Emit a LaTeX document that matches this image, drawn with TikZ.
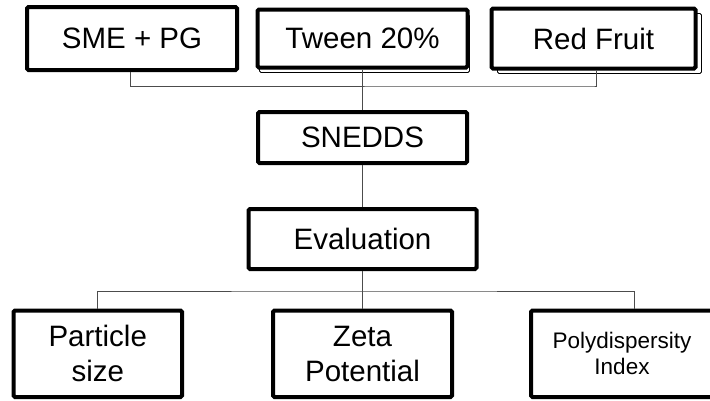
\documentclass[tikz,border=0pt]{standalone}
\usepackage{fontspec}
\setmainfont{Liberation Sans}
\usetikzlibrary{positioning,shadows}
\tikzset{%
  box/.style={rectangle, draw, line width=4pt, rounded corners=1.5pt, fill=white, align=center, inner sep=0pt, font=\fontsize{29.5}{35}\selectfont},
  shadowed/.style={copy shadow={shadow xshift=#1, shadow yshift=-5pt, draw=black, line width=0.8pt, fill=white, opacity=1}},
  link/.style={draw=black!70, line width=0.8pt}
}
\begin{document}
\begin{tikzpicture}[x=1pt, y=-1pt]

 \useasboundingbox (0,0) rectangle (710,400);
 \clip (0,0) rectangle (710,400);

 % inputs
 \node[box, shadowed=2pt, minimum width=210pt, minimum height=58pt] (tween) at (362.5,38.5) {Tween 20\%};
 \node[box, minimum width=210pt, minimum height=63pt, left=16.5pt of tween] (sme) {SME + PG};
 \node[box, shadowed=6pt, minimum width=204pt, minimum height=60pt, right=20pt of tween] (red) {Red Fruit};

 % formulation and evaluation
 \node[box, minimum width=209pt, minimum height=51pt, below=40.5pt of tween] (snedds) {SNEDDS};
 \node[box, minimum width=228pt, minimum height=60pt, below=42pt of snedds] (eval) {Evaluation};

 % parameters
 \node[box, minimum width=179pt, minimum height=86.5pt, below=37.5pt of eval] (zeta) {Zeta\\Potential};
 \node[box, minimum width=168.5pt, minimum height=86.5pt, left=87pt of zeta] (particle) {Particle\\size};
 \node[box, minimum width=182pt, minimum height=86.5pt, right=75pt of zeta, font=\fontsize{22.5}{26}\selectfont] (poly) {Polydispersity\\Index};

 \coordinate (top bus) at (0,86);
 \coordinate (low bus) at (0,291);

 \draw[link] ([xshift=-2pt]sme.south) |- (top bus -| red.south) -- ([xshift=3pt]red.south |- top bus) -- ([xshift=3pt]red.south);
 \draw[link] (tween.south) -- (snedds.north);
 \draw[link] (snedds.south) -- (eval.north);
 \draw[link] (eval.south) -- (zeta.north);
 \draw[link] (particle.north) |- (low bus -| zeta.north) -| ([xshift=12pt]poly.north);

\end{tikzpicture}
\end{document}
